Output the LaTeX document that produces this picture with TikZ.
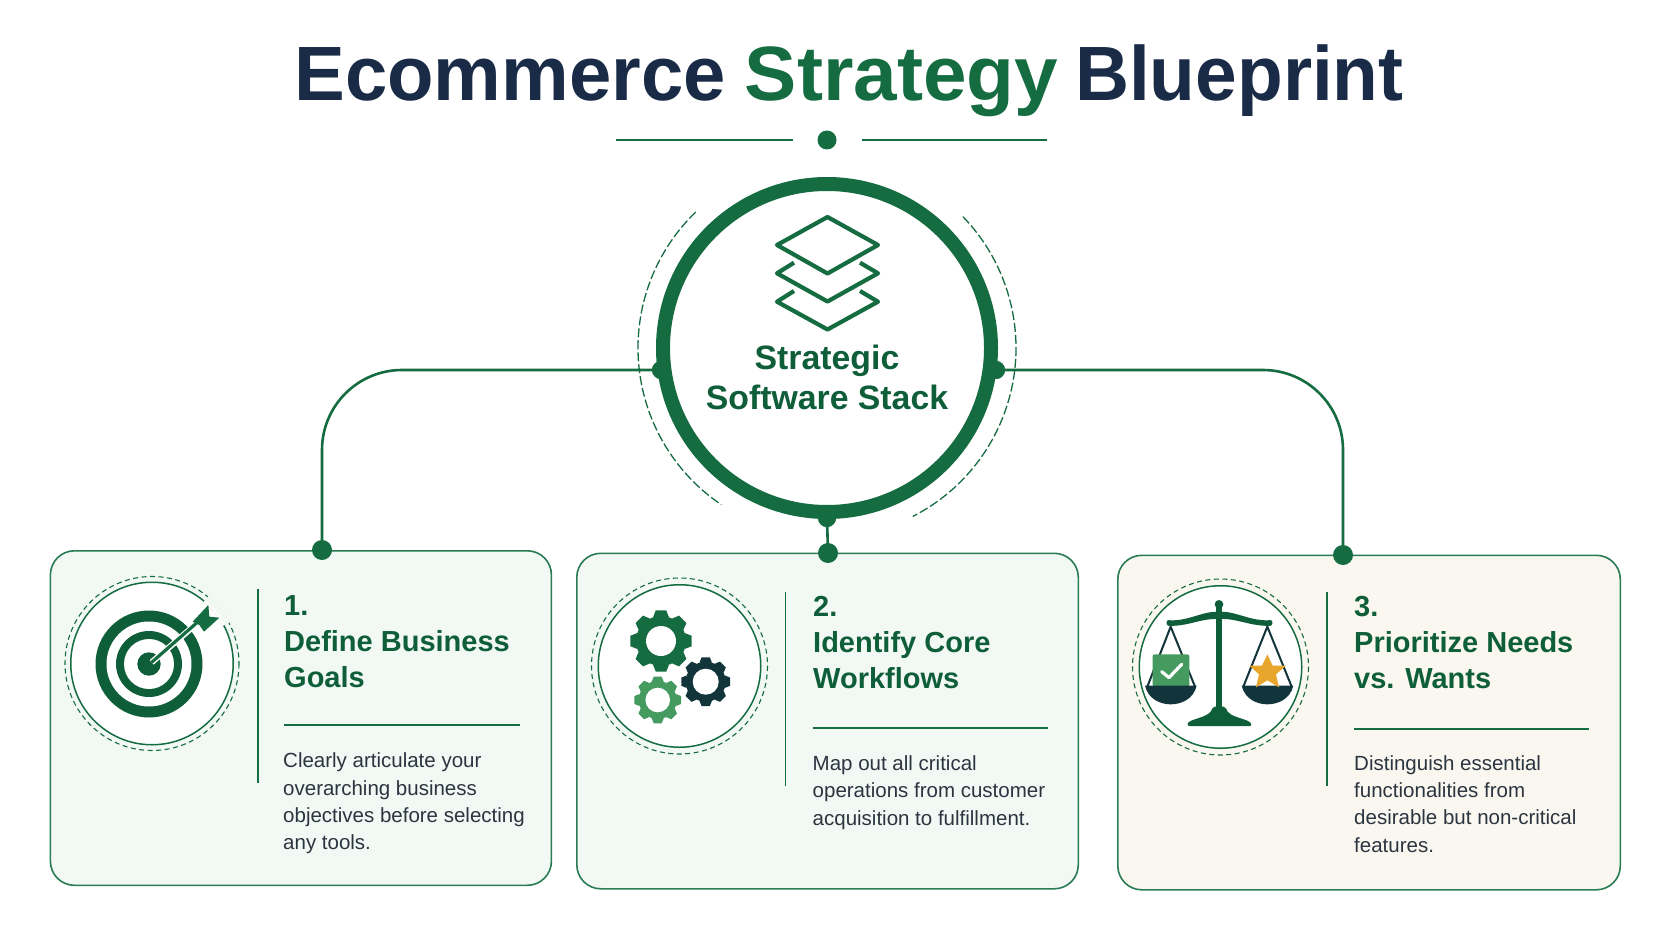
\documentclass[tikz,border=0pt]{standalone}
\usepackage{fontspec}
\usepackage{graphicx}
\setmainfont{Liberation Sans}
\definecolor{gmain}{HTML}{156C41}
\definecolor{gtext}{HTML}{0F5E3A}
\definecolor{gline}{HTML}{2A7C54}
\definecolor{glight}{HTML}{459A5F}
\definecolor{navy}{HTML}{1A2B47}
\definecolor{ink}{HTML}{2B3540}
\definecolor{darkteal}{HTML}{12343B}
\definecolor{cardA}{HTML}{F2F8F4}
\definecolor{cardC}{HTML}{FAF7F0}
\definecolor{amber}{HTML}{E8A72C}
\tikzset{
  card/.style={draw=gline,line width=1.6pt,rounded corners=24pt,anchor=north west,inner sep=0pt,outer sep=0pt},
  dotn/.style={circle,fill=gmain,inner sep=0pt,minimum size=#1},
  conn/.style={draw=gmain,line width=2.6pt},
  iconring/.style={circle,fill=white,draw=gmain,line width=1.5pt,minimum size=162.5pt,inner sep=0pt},
  dashring/.style={draw=gmain,line width=1.1pt,dash pattern=on 5pt off 3.5pt},
  rulel/.style={draw=gmain,line width=1.9pt},
  head/.style={font=\fontsize{29}{35.8}\selectfont\bfseries,text=gtext,align=left,anchor=base west,inner sep=0pt},
  body/.style={font=\fontsize{20.5}{27.2}\selectfont,text=ink,align=left,anchor=base west,inner sep=0pt},
}
\newcommand{\mygear}[6]{%
  \fill[#6] (#1,#2) circle (#4);
  \foreach \a in {0,45,...,315}{
    \fill[#6,rotate around={\a:(#1,#2)}] ($(#1,#2)+(-#3*0.26,-#4*0.95)$) -- ($(#1,#2)+(-#3*0.17,-#3)$) -- ($(#1,#2)+(#3*0.17,-#3)$) -- ($(#1,#2)+(#3*0.26,-#4*0.95)$) -- cycle;
  }
  \fill[white] (#1,#2) circle (#5);
}
\usetikzlibrary{calc}
\begin{document}
\begin{tikzpicture}[x=1pt,y=-1pt]
\useasboundingbox (0,0) rectangle (1672,941);
\fill[white] (0,0) rectangle (1672,941);
% title
\node[font=\fontsize{77}{80}\selectfont\bfseries,text=navy,anchor=base,inner sep=0pt] (title) at (849,101) {\scalebox{0.988}[1]{Ecommerce}\hspace{19pt}\textcolor{gmain}{\scalebox{1.017}[1]{Strategy}}\hspace{17pt}\scalebox{0.972}[1]{Blueprint}};
\node[dotn=19pt] (tdot) at (827,140) {};
\coordinate (tl1) at (615.5,140); \coordinate (tl2) at (793,140);
\coordinate (tr1) at (862,140); \coordinate (tr2) at (1047,140);
\draw[draw=gmain,line width=2.6pt] (tl1) -- (tl2);
\draw[draw=gmain,line width=2.6pt] (tr1) -- (tr2);
% cards
\node[card,fill=cardA,minimum width=501pt,minimum height=334.5pt] (c1) at (50.4,550.8) {};
\node[card,fill=cardA,minimum width=501.5pt,minimum height=335.5pt] (c2) at (576.8,553.3) {};
\node[card,fill=cardC,minimum width=502.5pt,minimum height=334.5pt] (c3) at (1117.8,555.3) {};
% connector dots
\node[dotn=20pt] (d1) at (322,550) {};
\node[dotn=20pt] (d2) at (828,553) {};
\node[dotn=20pt] (d3) at (1343,555) {};
\node[dotn=18pt] (hl) at (661,370) {};
\node[dotn=18pt] (hr) at (996,370) {};
\node[dotn=18pt] (hb) at (827,518) {};
\draw[conn,rounded corners=80pt] (hl.center) -| (d1.center);
\draw[conn,rounded corners=80pt] (hr.center) -| (d3.center);
\draw[conn] (hb.center) -- (d2.center);
% hub
\node[circle,fill=white,draw=gmain,line width=14pt,minimum size=328pt,inner sep=0pt] (hub) at (827,348) {};
\node[dotn=18pt] at (hl) {};
\node[dotn=18pt] at (hr) {};
\node[dotn=18pt] at (hb) {};
\draw[draw=gmain,line width=1.3pt,dash pattern=on 9pt off 3pt] ([shift={(827,348)}]-134:189) arc[start angle=-134,end angle=-236,radius=189];
\draw[draw=gmain,line width=1.3pt,dash pattern=on 9pt off 3pt] ([shift={(827,348)}]-44:189) arc[start angle=-44,end angle=63,radius=189];
% stack icon
\begin{scope}[draw=gmain,line width=4.2pt,line join=round]
\draw (827.5,217) -- (878,245) -- (827.5,273.5) -- (777,245) -- cycle;
\draw (794,262.7) -- (777,273.3) -- (827.5,301.5) -- (878,273.3) -- (860,262.7);
\draw (794,291) -- (777,301.7) -- (827.5,329.5) -- (878,301.7) -- (860,291);
\end{scope}
\node[font=\fontsize{33.8}{40}\selectfont\bfseries,text=gtext,align=center,anchor=base,inner sep=0pt] (hubl) at (827,409) {Strategic\\Software Stack};
% card 1
\draw[dashring] (152,663.5) circle (87);
\node[iconring] (i1) at (152,663.5) {};
\draw[draw=white,line width=2.4pt] ([shift={(152,663.5)}]-50:81.5) arc[start angle=-50,end angle=-28,radius=81.5];
\draw[draw=cardA,line width=2pt] ([shift={(152,663.5)}]-50:87) arc[start angle=-50,end angle=-28,radius=87];
\fill[gtext] (149,664) circle (53.5);
\fill[white] (149,664) circle (42.5);
\fill[gtext] (149,664) circle (33);
\fill[white] (149,664) circle (25);
\fill[gtext] (149,664) circle (11.7);
\begin{scope}[shift={(60,575)},scale=1/3]
\draw[white,line width=6pt] (275,262) -- (405,150);
\draw[gmain,line width=3.2pt] (275,262) -- (420,135);
\fill[gmain] (398,140) -- (445,90) -- (448,125) -- (478,128) -- (432,170) -- (418,150) -- cycle;
\end{scope}
\coordinate (v1a) at (257.6,589); \coordinate (v1b) at (257.6,783);
\draw[rulel] (v1a) -- (v1b);
\node[head] (t1) at (284,687.5) {1.\\Define Business\\Goals};
\coordinate (r1a) at (284,725.3); \coordinate (r1b) at (520,725.3);
\draw[rulel] (r1a) -- (r1b);
\node[body] (b1) at (283,849.5) {Clearly articulate your\\overarching business\\objectives before selecting\\any tools.};
% card 2
\draw[dashring] (679.5,666) circle (88);
\node[iconring] (i2) at (679.5,666) {};
\mygear{661}{641}{30.7}{25}{15}{gmain}
\mygear{705.7}{681.7}{24.3}{20}{13}{darkteal}
\mygear{657.7}{700}{23.3}{19}{12.3}{glight}
\coordinate (v2a) at (785.5,592); \coordinate (v2b) at (785.5,786);
\draw[rulel] (v2a) -- (v2b);
\node[head] (t2) at (813,688) {2.\\Identify Core\\Workflows};
\coordinate (r2a) at (813,728.3); \coordinate (r2b) at (1048,728.3);
\draw[rulel] (r2a) -- (r2b);
\node[body] (b2) at (812.5,825) {Map out all critical\\operations from customer\\acquisition to fulfillment.};
% card 3
\draw[dashring] (1220.5,667) circle (88);
\node[iconring] (i3) at (1220.5,667) {};
\begin{scope}[shift={(1130,575)},scale=1/3]
\draw[darkteal,line width=2pt] (52,335) -- (122,155) -- (195,335);
\draw[darkteal,line width=2pt] (340,335) -- (412,155) -- (485,335);
\fill[glight,rounded corners=2pt] (68,238) rectangle (178,335);
\draw[white,line width=3.2pt,line cap=round,line join=round] (95,290) -- (117,308) -- (155,268);
\fill[darkteal] (45,332) -- (200,332) .. controls (190,375) and (150,388) .. (122,388) .. controls (95,388) and (55,375) .. (45,332) -- cycle;
\fill[darkteal] (335,332) -- (490,332) .. controls (480,375) and (440,388) .. (412,388) .. controls (385,388) and (345,375) .. (335,332) -- cycle;
\fill[amber] (412,238) -- (428,272) -- (468,272) -- (438,298) -- (447,337) -- (412,316) -- (378,337) -- (387,298) -- (358,272) -- (396,272) -- cycle;
\fill[gtext,rounded corners=2pt] (110,135) .. controls (170,140) and (215,110) .. (267,110) .. controls (320,110) and (365,140) .. (427,135) -- (427,152) .. controls (365,155) and (320,130) .. (267,132) .. controls (215,130) and (170,155) .. (110,152) -- cycle;
\fill[gtext] (267,88) circle (13);
\fill[gtext] (258,90) rectangle (276,400);
\fill[gtext,rounded corners=2pt] (172,453) .. controls (175,430) and (240,430) .. (248,395) -- (287,395) .. controls (295,430) and (360,430) .. (365,453) -- cycle;
\end{scope}
\coordinate (v3a) at (1327,592); \coordinate (v3b) at (1327,786);
\draw[rulel] (v3a) -- (v3b);
\node[head] (t3) at (1354,688) {3.\\Prioritize Needs\\vs. Wants};
\coordinate (r3a) at (1354,728.7); \coordinate (r3b) at (1589,728.7);
\draw[rulel] (r3a) -- (r3b);
\node[body] (b3) at (1354,852) {Distinguish essential\\functionalities from\\desirable but non-critical\\features.};
\end{tikzpicture}
\end{document}
